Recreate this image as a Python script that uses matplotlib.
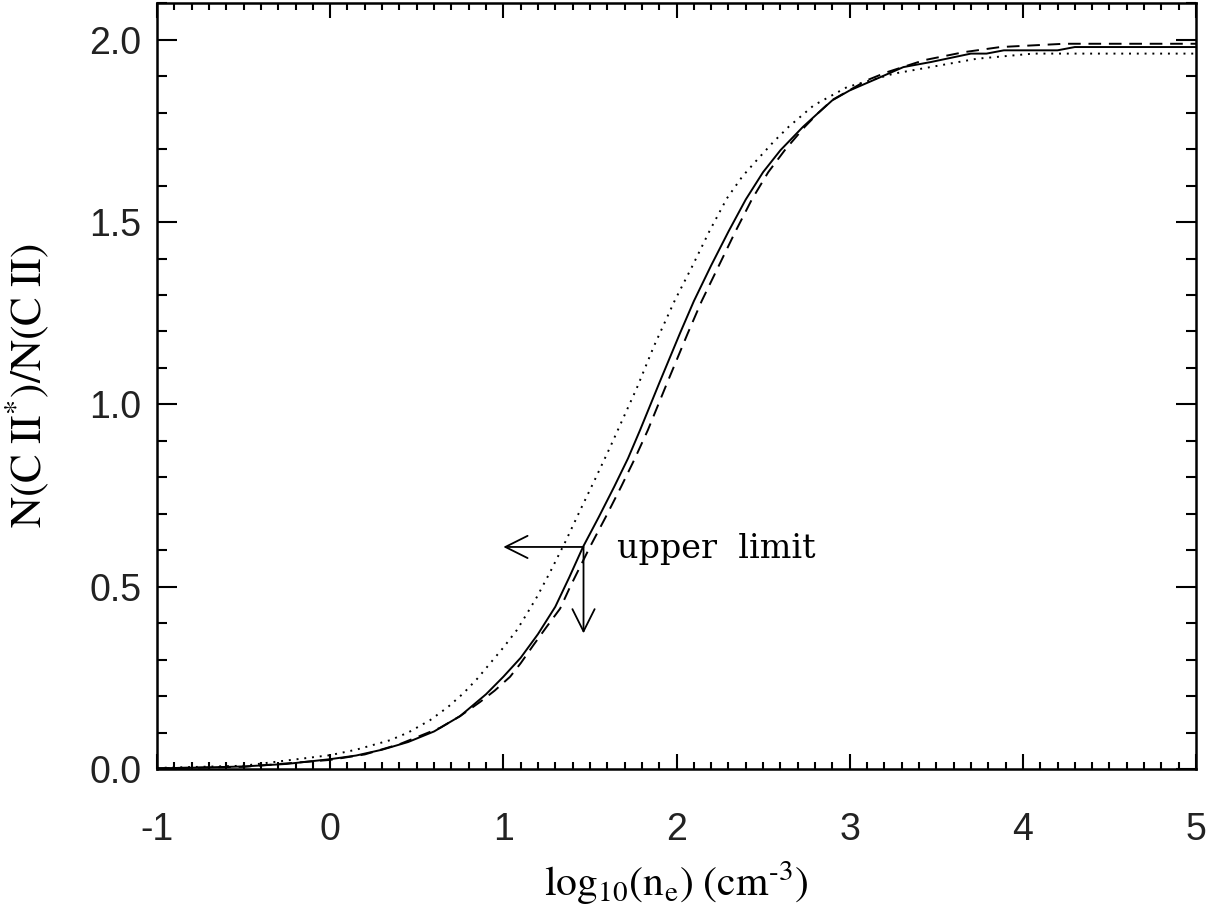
import matplotlib
matplotlib.use("Agg")
import matplotlib.pyplot as plt
from matplotlib.ticker import MultipleLocator

# log10(n_e) grid and N(C II*)/N(C II) ratio for the three models
x_solid = [-1.0, -0.75, -0.5, -0.25, 0.0, 0.15, 0.3, 0.45, 0.6, 0.75, 0.9, 1.0,
           1.1, 1.2, 1.3, 1.38, 1.46, 1.55, 1.64, 1.72, 1.79, 1.9, 2.02, 2.1,
           2.2, 2.3, 2.4, 2.5, 2.6, 2.73, 2.82, 2.9, 3.0, 3.18, 3.31, 3.47,
           3.7, 3.79, 3.89, 4.2, 4.3, 5.0]
y_solid = [0.002, 0.004, 0.007, 0.014, 0.027, 0.037, 0.053, 0.074, 0.103,
           0.145, 0.205, 0.253, 0.305, 0.37, 0.445, 0.525, 0.609, 0.69, 0.774,
           0.852, 0.93, 1.058, 1.195, 1.283, 1.381, 1.474, 1.562, 1.637, 1.697,
           1.761, 1.80, 1.834, 1.861, 1.898, 1.925, 1.939, 1.962, 1.962, 1.971,
           1.971, 1.98, 1.98]

x_dashed = [-1.0, -0.5, 0.0, 0.2, 0.4, 0.635, 0.75, 0.866, 0.95, 1.039, 1.1,
            1.174, 1.25, 1.328, 1.386, 1.5, 1.59, 1.68, 1.76, 1.835, 1.945,
            2.065, 2.145, 2.245, 2.34, 2.435, 2.53, 2.625, 2.74, 2.82, 2.9,
            3.1, 3.215, 3.43, 3.66, 3.87, 4.24, 5.0]
y_dashed = [0.002, 0.006, 0.025, 0.04, 0.068, 0.113, 0.145, 0.184, 0.215,
            0.253, 0.29, 0.34, 0.39, 0.44, 0.5, 0.609, 0.69, 0.774, 0.852, 0.93,
            1.058, 1.195, 1.283, 1.381, 1.474, 1.562, 1.637, 1.697, 1.761, 1.80,
            1.835, 1.889, 1.911, 1.944, 1.966, 1.98, 1.989, 1.989]

x_dotted = [-1.0, -0.5, 0.0, 0.15, 0.346, 0.45, 0.577, 0.68, 0.77, 0.85, 0.924,
            1.0, 1.078, 1.135, 1.194, 1.27, 1.36, 1.444, 1.53, 1.617, 1.69,
            1.771, 1.87, 1.99, 2.089, 2.19, 2.291, 2.38, 2.464, 2.56, 2.647,
            2.792, 2.984, 3.254, 3.466, 3.735, 4.06, 5.0]
y_dotted = [0.003, 0.009, 0.038, 0.053, 0.079, 0.1, 0.134, 0.17, 0.208, 0.248,
            0.29, 0.333, 0.381, 0.425, 0.472, 0.54, 0.625, 0.71, 0.795, 0.883,
            0.96, 1.045, 1.16, 1.285, 1.377, 1.475, 1.565, 1.625, 1.67, 1.72,
            1.761, 1.82, 1.87, 1.907, 1.925, 1.948, 1.962, 1.962]

# measured upper limit and where its arrows point
limit_x, limit_y = 1.463, 0.609
arrow_left_to = 1.0
arrow_down_to = 0.372

x_ticks = [-1, 0, 1, 2, 3, 4, 5]
y_ticks = [0.0, 0.5, 1.0, 1.5, 2.0]

plt.rcParams["mathtext.fontset"] = "stix"

fig = plt.figure(figsize=(12.15, 9.13), dpi=100)
ax = fig.add_axes([0.1292, 0.1577, 0.8552, 0.8387])

lw = 1.4
ax.plot(x_solid, y_solid, color="black", lw=lw, ls="-")
ax.plot(x_dashed, y_dashed, color="black", lw=lw, ls=(0, (6.5, 4)))
ax.plot(x_dotted, y_dotted, color="black", lw=lw, ls=(0, (1, 3)))

arrow_props = dict(arrowstyle="->,head_length=0.8,head_width=0.4",
                   color="black", lw=1.3, shrinkA=0, shrinkB=0,
                   mutation_scale=20)
ax.annotate("", xy=(arrow_left_to, limit_y), xytext=(limit_x, limit_y),
            arrowprops=arrow_props)
ax.annotate("", xy=(limit_x, arrow_down_to), xytext=(limit_x, limit_y),
            arrowprops=arrow_props)
ax.text(1.656, 0.578, "upper  limit", fontsize=24, family="DejaVu Serif",
        va="baseline", ha="left")

ax.set_xlim(-1, 5)
ax.set_ylim(0, 2.1)
ax.set_xticks(x_ticks)
ax.set_xticklabels([str(v) for v in x_ticks])
ax.set_yticks(y_ticks)
ax.set_yticklabels([f"{v:.1f}" for v in y_ticks])
ax.xaxis.set_minor_locator(MultipleLocator(0.1))
ax.yaxis.set_minor_locator(MultipleLocator(0.1))

for side in ax.spines.values():
    side.set_linewidth(1.8)

ax.tick_params(axis="both", which="both", direction="in",
               top=True, right=True, width=1.5, colors="black")
ax.tick_params(axis="x", which="major", length=10.5, pad=31)
ax.tick_params(axis="x", which="minor", length=5.2)
ax.tick_params(axis="y", which="major", length=14.5, pad=11)
ax.tick_params(axis="y", which="minor", length=7.5)
for lab in ax.get_xticklabels() + ax.get_yticklabels():
    lab.set_fontfamily("Liberation Sans")
    lab.set_fontsize(27)
    lab.set_color("#222222")

ax.set_xlabel(r"$\mathrm{log_{10}(n_e)\ (cm^{" + "\u2010" + r"3})}$",
              fontsize=30, labelpad=8)
ax.set_ylabel(r"$\mathrm{N(C\ II^{*})/N(C\ II)}$", fontsize=31)
ax.yaxis.set_label_coords(-0.102, 0.5)

fig.savefig("out.png", dpi=100, facecolor="white")
